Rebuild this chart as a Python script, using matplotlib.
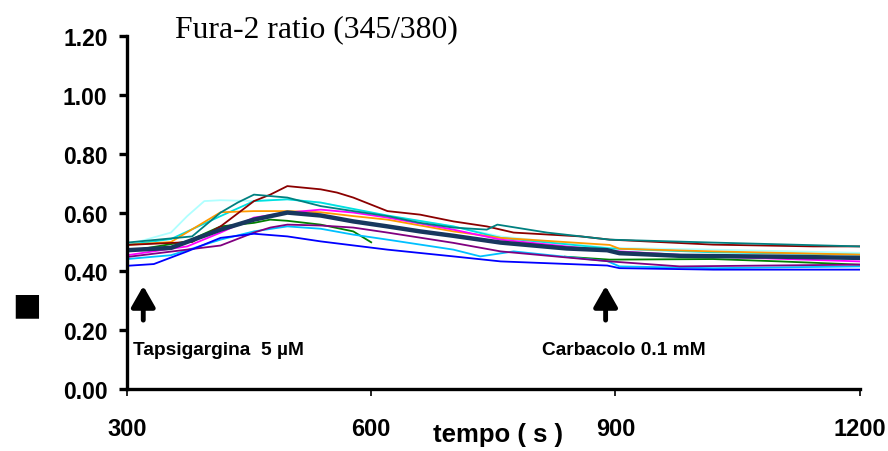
import matplotlib
matplotlib.use("Agg")
import numpy as np
import matplotlib.pyplot as plt

# time points (s) and Fura-2 ratio traces
t_mean = [300, 354, 415, 456, 497, 538, 578, 620, 660, 701, 759, 840, 890, 905, 979, 1102, 1200]
r_mean = [0.472, 0.48, 0.542, 0.576, 0.60, 0.59, 0.57, 0.553, 0.536, 0.521, 0.498, 0.478, 0.472, 0.462, 0.453, 0.45, 0.446]

t_red = [300, 380, 415, 456, 476, 497, 538, 558, 578, 620, 660, 701, 742, 775, 857, 893, 1020, 1143, 1200]
r_red = [0.49, 0.50, 0.553, 0.639, 0.661, 0.69, 0.679, 0.668, 0.651, 0.605, 0.593, 0.57, 0.553, 0.532, 0.519, 0.508, 0.491, 0.485, 0.485]

t_teal = [300, 380, 415, 436, 456, 497, 538, 578, 620, 660, 701, 742, 755, 816, 893, 1020, 1200]
r_teal = [0.498, 0.519, 0.60, 0.634, 0.661, 0.651, 0.622, 0.605, 0.588, 0.565, 0.549, 0.542, 0.559, 0.532, 0.508, 0.498, 0.485]

t_pale = [300, 354, 374, 395, 415, 456, 497, 538, 578, 620, 701, 759, 893, 1020, 1200]
r_pale = [0.49, 0.532, 0.588, 0.639, 0.642, 0.639, 0.645, 0.634, 0.61, 0.588, 0.553, 0.519, 0.48, 0.474, 0.463]

t_cyan = [300, 354, 415, 456, 497, 538, 620, 701, 759, 893, 1020, 1200]
r_cyan = [0.49, 0.51, 0.588, 0.639, 0.645, 0.634, 0.59, 0.553, 0.514, 0.478, 0.465, 0.457]

t_orange = [300, 354, 415, 456, 497, 538, 578, 620, 701, 759, 893, 905, 1020, 1200]
r_orange = [0.49, 0.50, 0.601, 0.605, 0.605, 0.601, 0.588, 0.576, 0.536, 0.514, 0.49, 0.477, 0.468, 0.457]

t_magenta = [300, 374, 415, 456, 497, 538, 578, 620, 701, 759, 893, 1020, 1200]
r_magenta = [0.455, 0.485, 0.532, 0.583, 0.60, 0.61, 0.60, 0.583, 0.542, 0.508, 0.47, 0.45, 0.434]

t_green = [300, 374, 415, 456, 476, 497, 538, 578, 600, np.nan, 838, 893, 1020, 1102, 1200]
r_green = [0.468, 0.502, 0.553, 0.565, 0.576, 0.572, 0.559, 0.536, 0.499, np.nan, 0.45, 0.44, 0.442, 0.434, 0.423]

t_sky = [300, 354, 415, 456, 497, 538, 578, 620, 701, 734, 775, 890, 905, 1020, 1200]
r_sky = [0.442, 0.455, 0.508, 0.536, 0.553, 0.545, 0.525, 0.508, 0.474, 0.451, 0.468, 0.435, 0.417, 0.411, 0.417]

t_purple = [300, 415, 456, 476, 497, 538, 578, 620, 701, 759, 893, 979, 1200]
r_purple = [0.449, 0.488, 0.532, 0.549, 0.559, 0.556, 0.549, 0.532, 0.497, 0.468, 0.434, 0.417, 0.423]

t_blue = [300, 333, 374, 415, 456, 497, 538, 620, 701, 759, 890, 905, 1020, 1200]
r_blue = [0.419, 0.425, 0.468, 0.514, 0.528, 0.519, 0.502, 0.474, 0.451, 0.434, 0.42, 0.411, 0.406, 0.406]

traces = [
    (t_pale, r_pale, "#b0ffff"),
    (t_cyan, r_cyan, "#00e0e0"),
    (t_orange, r_orange, "#ff9900"),
    (t_magenta, r_magenta, "#ff00ff"),
    (t_green, r_green, "#008000"),
    (t_sky, r_sky, "#00c0ff"),
    (t_purple, r_purple, "#800080"),
    (t_blue, r_blue, "#0000ff"),
    (t_red, r_red, "#8b0000"),
    (t_teal, r_teal, "#008080"),
]

fig = plt.figure(figsize=(8.88, 4.52), dpi=100)
ax = fig.add_axes([0.143, 0.137, 0.825, 0.781])

for t, r, c in traces:
    ax.plot(t, r, color=c, lw=1.3)
ax.plot(t_mean, r_mean, color="#17375e", lw=3.2)

ax.set_xlim(300, 1200)
ax.set_ylim(0, 1.2)
ax.set_xticks([300, 600, 900, 1200])
ax.set_yticks(np.arange(0, 1.21, 0.2))
ax.set_yticklabels([f"{v:.2f}" for v in np.arange(0, 1.21, 0.2)])

for s in ["top", "right"]:
    ax.spines[s].set_visible(False)
for s in ["left", "bottom"]:
    ax.spines[s].set_linewidth(2.4)

ax.tick_params(axis="y", direction="out", length=6, width=2.4, pad=8)
ax.tick_params(axis="x", direction="out", length=5, width=1.2, pad=15)
for lab in ax.get_yticklabels():
    lab.set_fontfamily("Liberation Sans")
    lab.set_fontweight("bold")
    lab.set_fontsize(16.5)
for lab in ax.get_xticklabels():
    lab.set_fontfamily("Liberation Sans")
    lab.set_fontweight("bold")
    lab.set_fontsize(17)

ax.set_xlabel("tempo ( s )", fontfamily="Liberation Sans", fontweight="bold", fontsize=18.5,
              va="center")
ax.xaxis.set_label_coords(0.506, -0.128)

fig.text(0.030, 0.323, "■", fontsize=22, ha="center", va="center")

fig.text(0.356, 0.934, "Fura-2 ratio (345/380)", fontfamily="Liberation Serif",
         fontsize=22.8, ha="center", va="center")

arrow = dict(arrowstyle="-|>,head_width=0.4,head_length=0.7", color="black", lw=3.5,
             mutation_scale=18)
ax.annotate("", xy=(320, 0.36), xytext=(320, 0.225), arrowprops=arrow)
ax.annotate("", xy=(888, 0.36), xytext=(888, 0.225), arrowprops=arrow)
ax.text(308, 0.133, "Tapsigargina  5 µM", fontfamily="Liberation Sans", fontweight="bold",
        fontsize=13.8, va="center")
ax.text(810, 0.133, "Carbacolo 0.1 mM", fontfamily="Liberation Sans", fontweight="bold",
        fontsize=13.8, va="center")

plt.savefig("out.png", dpi=100)
